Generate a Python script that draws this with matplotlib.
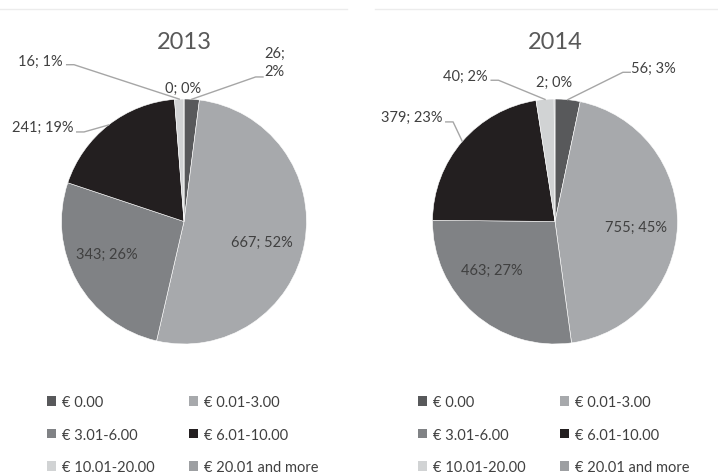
import matplotlib.pyplot as plt
import numpy as np
from matplotlib.lines import Line2D
from matplotlib.patches import Patch

plt.rcParams['font.family'] = ['Lato', 'DejaVu Sans']

# data
categories = ["€ 0.00", "€ 0.01-3.00", "€ 3.01-6.00", "€ 6.01-10.00",
              "€ 10.01-20.00", "€ 20.01 and more"]
years = ["2013", "2014"]
counts_2013 = [26, 667, 343, 241, 16, 0]
counts_2014 = [56, 755, 463, 379, 40, 2]
percent_2013 = [2, 52, 26, 19, 1, 0]
percent_2014 = [3, 45, 27, 23, 2, 0]

colors = ["#58595b", "#a7a9ac", "#808285", "#231f20", "#d1d3d4", "#9d9fa2"]
text_color = "#404040"
leader_color = "#a6a6a6"

# label layout in pie-radius units: (x, y, ha, leader y-offset or None, wrap)
layout_2013 = [
    (0.655, 1.30, "left", -0.12, True),
    (0.637, -0.167, "center", None, False),
    (-0.629, -0.265, "center", None, False),
    (-0.906, 0.771, "right", -0.04, False),
    (-0.988, 1.31, "right", -0.03, False),
    (-0.008, 1.09, "center", None, False),
]
layout_2014 = [
    (0.624, 1.253, "left", -0.035, False),
    (0.665, -0.045, "center", None, False),
    (-0.518, -0.392, "center", None, False),
    (-0.922, 0.853, "right", -0.04, False),
    (-0.551, 1.188, "right", -0.035, False),
    (-0.008, 1.139, "center", None, False),
]


def draw_pie(ax, counts, percents, layout, title):
    wedges, _ = ax.pie(counts, colors=colors, startangle=90, counterclock=False,
                       radius=1, wedgeprops=dict(edgecolor="white", linewidth=0.4))
    ax.set_xlim(-1, 1)
    ax.set_ylim(-1, 1)
    ax.axis("off")

    for wedge, count, pct, (x, y, ha, dy, wrap) in zip(wedges, counts, percents, layout):
        sep = "\n" if wrap else " "
        ax.text(x, y, f"{count};{sep}{pct}%", ha=ha, va="center", fontsize=10.5,
                color=text_color, linespacing=1.35)
        if dy is None:
            continue
        # leader goes to the middle of the wedge's outer edge
        mid = np.deg2rad((wedge.theta1 + wedge.theta2) / 2)
        edge = (np.cos(mid), np.sin(mid))
        step = 0.06 if ha == "right" else -0.06
        x0 = x + 0.03 if ha == "right" else x - 0.01
        ax.plot([x0, x0 + step, edge[0]], [y + dy, y + dy, edge[1]],
                color=leader_color, lw=1, clip_on=False)

    ax.text(0, 1.473, title, ha="center", va="center", fontsize=17, color="#595959")


W, H = 718, 477
fig = plt.figure(figsize=(W / 100, H / 100), dpi=100)

r = 122.5
pie_specs = [
    (184, 222.5, counts_2013, percent_2013, layout_2013, years[0], 47),
    (555, 222.5, counts_2014, percent_2014, layout_2014, years[1], 418),
]
order = [0, 2, 4, 1, 3, 5]  # legend fills row by row
for cx, cy, counts, percents, layout, title, leg_x in pie_specs:
    ax = fig.add_axes([(cx - r) / W, (H - cy - r) / H, 2 * r / W, 2 * r / H])
    draw_pie(ax, counts, percents, layout, title)

    handles = [Patch(facecolor=colors[i], edgecolor="none", label=categories[i]) for i in order]
    fig.legend(handles=handles, ncol=2, loc="upper left",
               bbox_to_anchor=(leg_x / W, 1 - 396 / H), frameon=False,
               fontsize=10.5, labelcolor=text_color, handlelength=0.6,
               handleheight=0.65, handletextpad=0.4, columnspacing=2.4,
               labelspacing=1.27, borderpad=0, borderaxespad=0)

# faint chart borders along the top
fig.add_artist(Line2D([0, 347 / W], [1 - 10 / H] * 2, color="#ececec", lw=1))
fig.add_artist(Line2D([375 / W, 1], [1 - 10 / H] * 2, color="#ececec", lw=1))

fig.savefig("out.png", dpi=100, facecolor="white")
